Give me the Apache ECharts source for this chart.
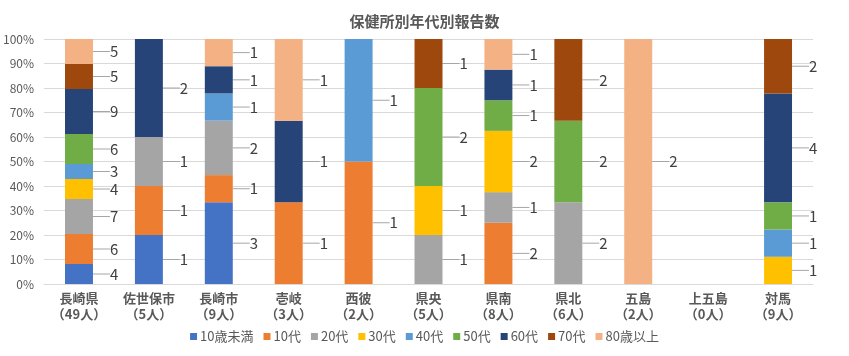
<!DOCTYPE html>
<html><head><meta charset="utf-8">
<script src="https://cdn.jsdelivr.net/npm/echarts@6/dist/echarts.min.js"></script>
<style>html,body{margin:0;padding:0;background:#fff}#c{width:849px;height:356px}</style>
</head><body><div id="c"></div>
<script>
const categories = ['長崎県\n（49人）','佐世保市\n（5人）','長崎市\n（9人）','壱岐\n（3人）','西彼\n（2人）','県央\n（5人）','県南\n（8人）','県北\n（6人）','五島\n（2人）','上五島\n（0人）','対馬\n（9人）'];
const seriesNames = ['10歳未満','10代','20代','30代','40代','50代','60代','70代','80歳以上'];
const colors = ['#4472C4','#ED7D31','#A5A5A5','#FFC000','#5B9BD5','#70AD47','#264478','#9E480E','#F4B183'];
const age_u10 = [4,1,3,0,0,0,0,0,0,0,0];
const age_10  = [6,1,1,1,1,0,2,0,0,0,0];
const age_20  = [7,1,2,0,0,1,1,2,0,0,0];
const age_30  = [4,0,0,0,0,1,2,0,0,0,1];
const age_40  = [3,0,1,0,1,0,0,0,0,0,1];
const age_50  = [6,0,0,0,0,2,1,2,0,0,1];
const age_60  = [9,2,1,1,0,0,1,0,0,0,4];
const age_70  = [5,0,0,0,0,1,0,2,0,0,2];
const age_80  = [5,0,1,1,0,0,1,0,2,0,0];
const yTicks = [0,10,20,30,40,50,60,70,80,90,100];

const counts = [age_u10,age_10,age_20,age_30,age_40,age_50,age_60,age_70,age_80];
const totals = categories.map((_, i) => counts.reduce((s, a) => s + a[i], 0));
const FONT = '"Noto Sans CJK JP", "Noto Sans", sans-serif';

const series = counts.map((arr, si) => ({
  name: seriesNames[si],
  type: 'bar',
  stack: 'all',
  barWidth: '40%',
  itemStyle: { color: colors[si] },
  data: arr.map((v, i) => v > 0 ? { value: v / totals[i] * 100, cnt: v } : null),
  label: {
    show: true, position: 'right', distance: 4,
    color: '#404040', fontSize: 15, fontFamily: FONT,
    formatter: p => p.data ? String(p.data.cnt) : ''
  },
  labelLayout: { dx: 13 },
  labelLine: { show: true, lineStyle: { color: '#A6A6A6', width: 1 } }
}));

const chart = echarts.init(document.getElementById('c'), null, { renderer: 'canvas' });
chart.setOption({
  animation: false,
  title: { text: '保健所別年代別報告数', left: 'center', top: 9,
    textStyle: { fontFamily: FONT, fontSize: 15, fontWeight: 'bold', color: '#595959' } },
  grid: { left: 43, right: 36, top: 39, bottom: 72, containLabel: false },
  legend: { bottom: 8, left: 'center', itemWidth: 7, itemHeight: 7, itemGap: 10, icon: 'rect',
    textStyle: { fontFamily: FONT, fontSize: 13, color: '#595959', padding: [0, 0, 0, -2] }, data: seriesNames },
  xAxis: { type: 'category', data: categories,
    axisLine: { lineStyle: { color: '#D9D9D9' } }, axisTick: { show: false },
    axisLabel: { interval: 0, fontFamily: FONT, fontSize: 13, fontWeight: 'bold', color: '#595959', lineHeight: 16, margin: 6 } },
  yAxis: { type: 'value', min: yTicks[0], max: yTicks[yTicks.length - 1], interval: 10,
    axisLabel: { formatter: '{value}%', fontFamily: FONT, fontSize: 12, color: '#595959', margin: 10 },
    axisLine: { show: false }, axisTick: { show: false },
    splitLine: { lineStyle: { color: '#D9D9D9' } } },
  series: series
});
</script></body></html>
